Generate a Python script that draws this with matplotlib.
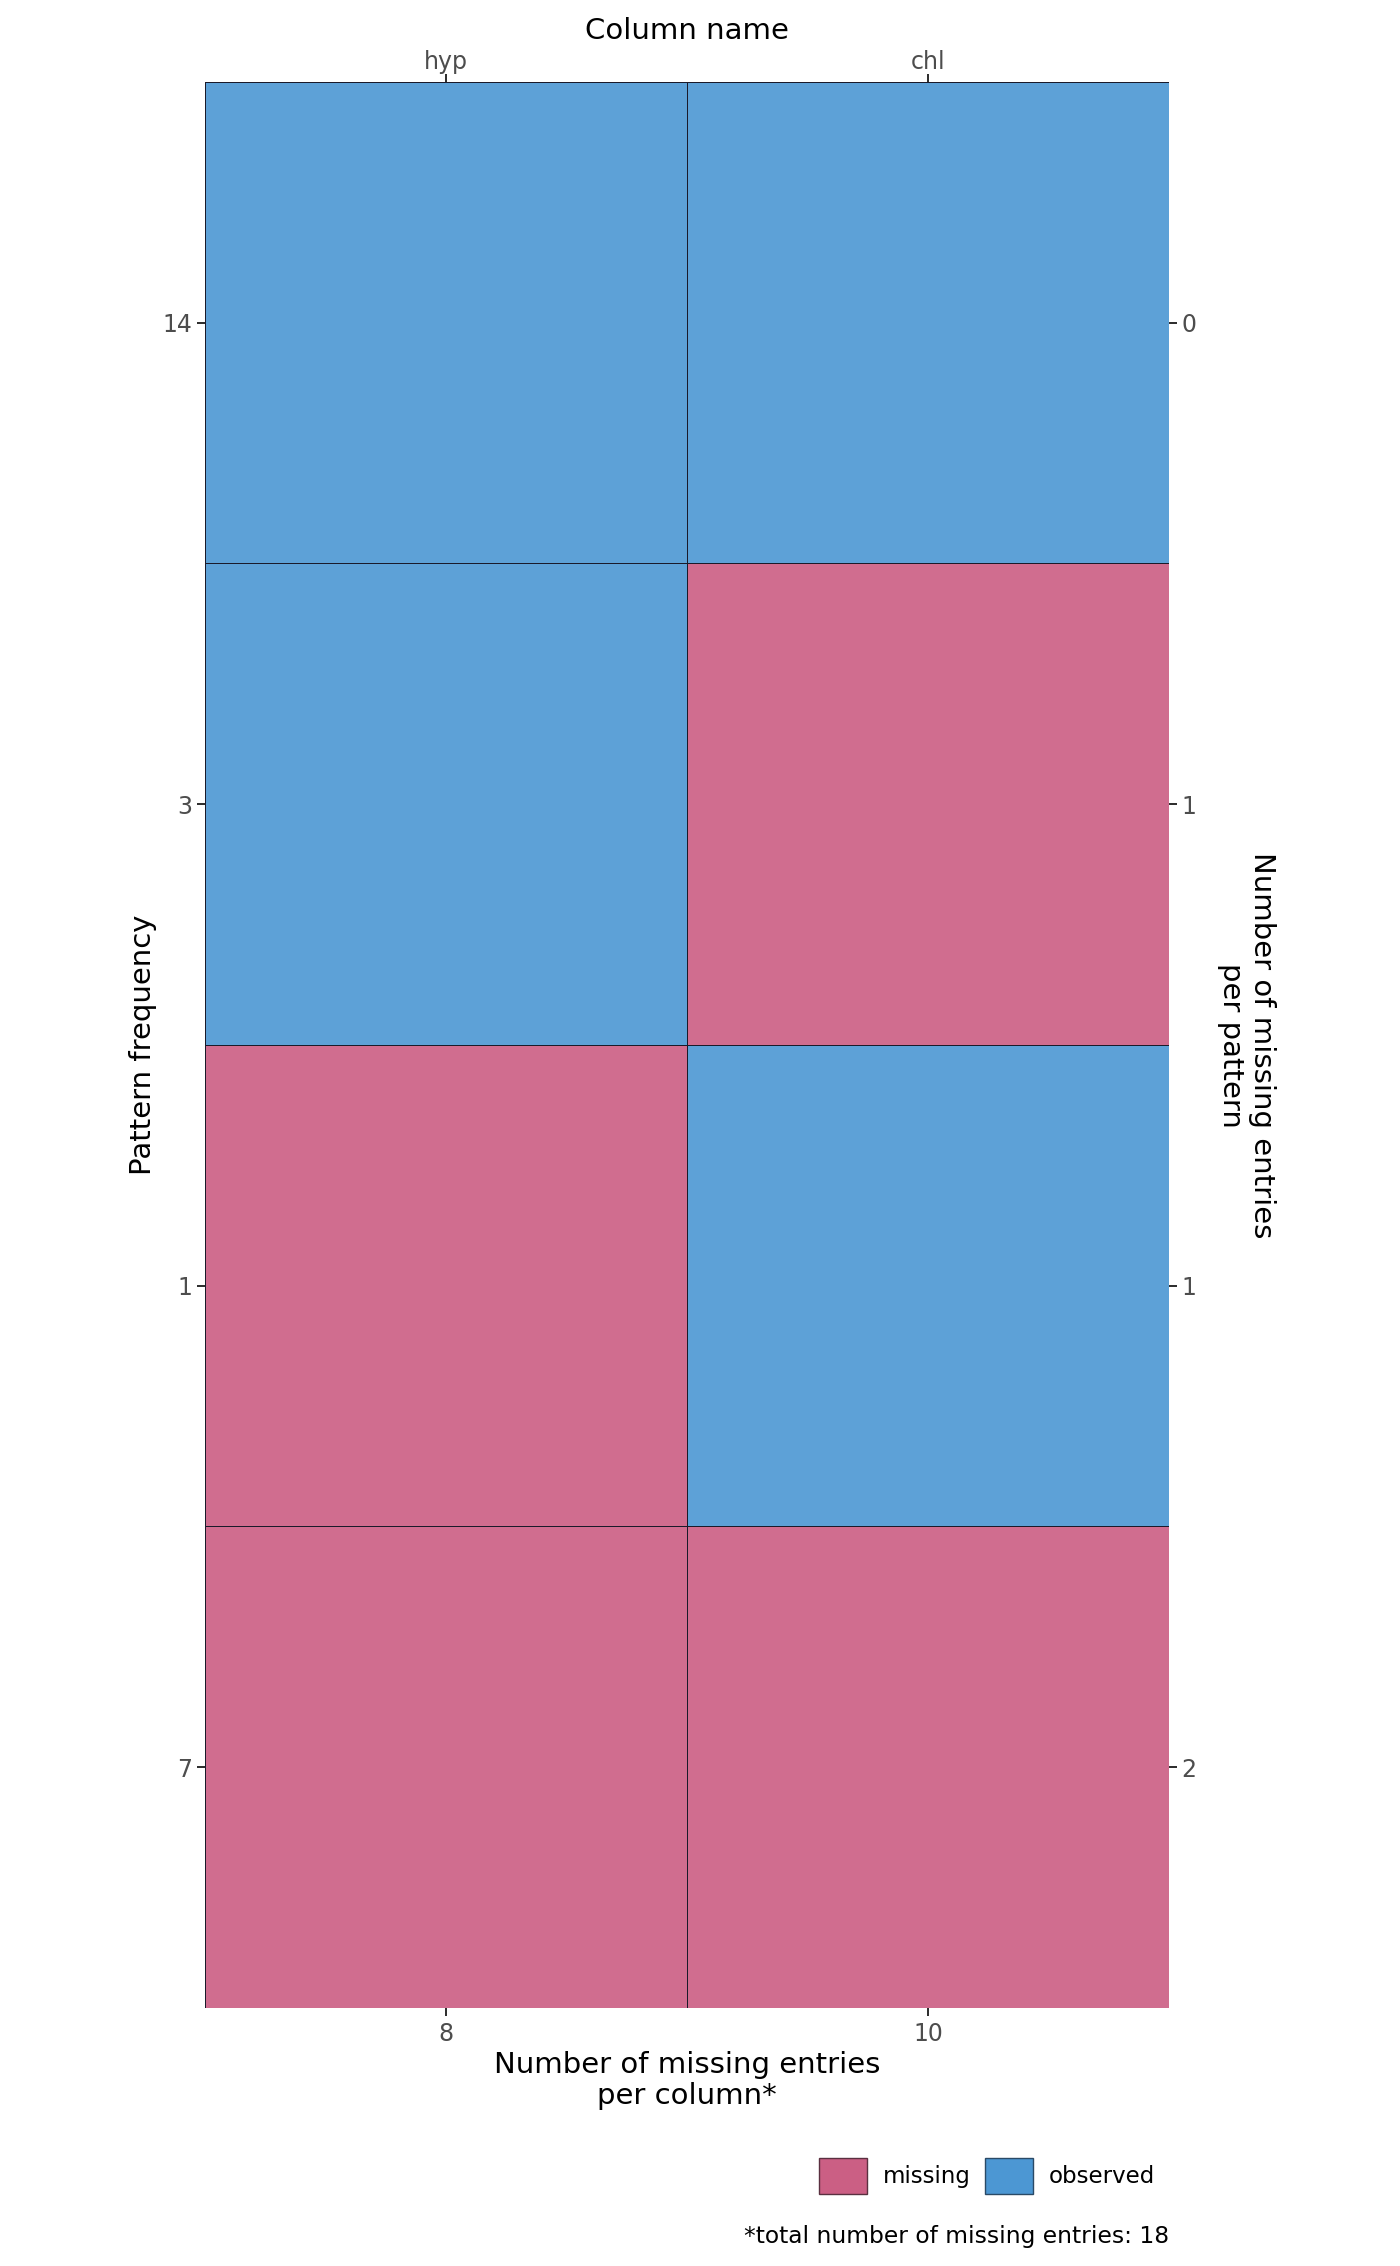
import numpy as np
import matplotlib.pyplot as plt
from matplotlib.colors import ListedColormap
from matplotlib.patches import Patch

# missing data pattern (1 = observed, 0 = missing)
columns = ['hyp', 'chl']
pattern = [[1, 1],
           [1, 0],
           [0, 1],
           [0, 0]]
pattern_freq = [14, 3, 1, 7]
missing_per_pattern = [0, 1, 1, 2]
missing_per_column = [8, 10]
total_missing = 18

col_missing = '#d06d8f'
col_observed = '#5da1d7'

fig = plt.figure(figsize=(14, 22.66), dpi=100)
ax = fig.add_axes([0.1464, 0.1139, 0.6886, 0.8499])

z = np.array(pattern)
ax.pcolormesh(np.arange(len(columns) + 1), np.arange(len(pattern) + 1), z,
              cmap=ListedColormap([col_missing, col_observed]), vmin=0, vmax=1,
              edgecolors='#1a1a2a', linewidth=0.7)
ax.set_xlim(0, len(columns))
ax.set_ylim(len(pattern), 0)
for s in ax.spines.values():
    s.set_visible(False)

xs = np.arange(len(columns)) + 0.5
ys = np.arange(len(pattern)) + 0.5

tick_kw = dict(length=6, width=1.3, color='#1a1a1a', labelsize=17, labelcolor='#4d4d4d')

ax.set_xticks(xs)
ax.set_xticklabels(missing_per_column)
ax.set_yticks(ys)
ax.set_yticklabels(pattern_freq)
ax.tick_params(axis='x', pad=4, **tick_kw)
ax.tick_params(axis='y', pad=3, **tick_kw)
ax.set_xlabel('Number of missing entries\nper column*', fontsize=21, labelpad=4, linespacing=1.1)
ax.set_ylabel('Pattern frequency', fontsize=21, labelpad=4)

top = ax.twiny()
top.set_xlim(ax.get_xlim())
top.set_xticks(xs)
top.set_xticklabels(columns)
top.tick_params(pad=0, **tick_kw)
top.set_xlabel('Column name', fontsize=21, labelpad=8)
for s in top.spines.values():
    s.set_visible(False)

right = ax.twinx()
right.set_ylim(ax.get_ylim())
right.set_yticks(ys)
right.set_yticklabels(missing_per_pattern)
right.tick_params(pad=3, **tick_kw)
right.set_ylabel('Number of missing entries\nper pattern', fontsize=21, rotation=270,
                 labelpad=57, linespacing=1.1)
for s in right.spines.values():
    s.set_visible(False)

handles = [Patch(facecolor='#cb5f84', edgecolor='#5a3040', label='missing'),
           Patch(facecolor='#4c97d3', edgecolor='#2a4a66', label='observed')]
fig.legend(handles=handles, loc='center', bbox_to_anchor=(0.705, 0.0397), ncol=2,
           frameon=False, fontsize=16.5, handlelength=2.1, handleheight=2.1,
           columnspacing=0.6, handletextpad=0.7)

fig.text(0.835, 0.0128, '*total number of missing entries: %d' % total_missing,
         ha='right', va='center', fontsize=16.8)

fig.savefig('out.png', dpi=100, facecolor='white')
